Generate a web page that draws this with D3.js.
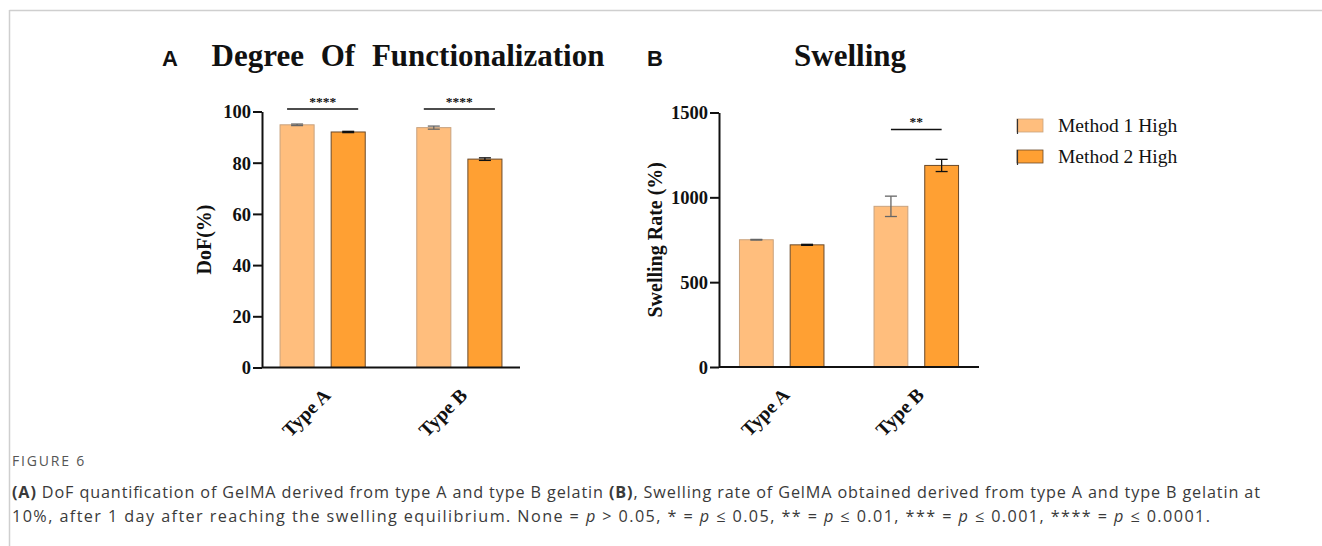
<!DOCTYPE html>
<html><head><meta charset="utf-8">
<script src="https://cdn.jsdelivr.net/npm/d3@7"></script>
<style>
html,body{margin:0;padding:0;background:#fff;}
svg{display:block;}
</style></head>
<body>
<svg id="chart" width="1322" height="546"></svg>
<script>
// ---- data ----
const categories = ["Type A", "Type B"];
const seriesNames = ["Method 1 High", "Method 2 High"];
const dofMethod1 = [94.8, 93.7];
const dofMethod1Err = [0.3, 0.6];
const dofMethod2 = [92.0, 81.4];
const dofMethod2Err = [0.25, 0.5];
const swellMethod1 = [750, 947];
const swellMethod1Err = [2, 60];
const swellMethod2 = [720, 1188];
const swellMethod2Err = [3, 36];
const dofTicks = [0, 20, 40, 60, 80, 100];
const swellTicks = [0, 500, 1000, 1500];
const dofSig = ["****", "****"];
const dofSigLevel = [101, 101];
const swellSig = [null, "**"];
const swellSigLevel = [null, 1400];
const captionTitle = "FIGURE 6";

const svg = d3.select("#chart");
const colors = ["#FFBE7D", "#FFA033"];
const strokes = ["#C9A27E", "#6b4a2a"];
const errColors = ["#666", "#111"];
const serif = "'Liberation Serif','Times New Roman',serif";

// frame
svg.append("line").attr("x1", 9.5).attr("x2", 1322).attr("y1", 10.5).attr("y2", 10.5).attr("stroke", "#cfcfcf").attr("stroke-width", 1.5);
svg.append("line").attr("x1", 9.5).attr("x2", 9.5).attr("y1", 10).attr("y2", 546).attr("stroke", "#cfcfcf").attr("stroke-width", 1.5);

function panel(opt) {
  const g = svg.append("g");
  const y = d3.scaleLinear().domain(opt.domain).range([opt.y0, opt.y1]);
  const x = d3.scaleBand().domain(categories).range([opt.x0, opt.x1]).paddingInner(opt.pIn).paddingOuter(opt.pOut);
  const xs = d3.scaleBand().domain(seriesNames).range([0, x.bandwidth()]).paddingInner(1/3);
  const vals = [opt.m1, opt.m2], errs = [opt.e1, opt.e2];

  // bars
  seriesNames.forEach((s, si) => {
    const bars = g.append("g");
    bars.selectAll("rect").data(categories).join("rect")
      .attr("x", c => x(c) + xs(s))
      .attr("y", (c, i) => y(vals[si][i]))
      .attr("width", xs.bandwidth())
      .attr("height", (c, i) => y(0) - y(vals[si][i]))
      .attr("fill", colors[si]).attr("stroke", strokes[si]).attr("stroke-width", 1);
    // error bars
    categories.forEach((c, i) => {
      const cx = x(c) + xs(s) + xs.bandwidth() / 2;
      const hi = y(vals[si][i] + errs[si][i]), lo = y(vals[si][i] - errs[si][i]);
      const cw = 6;
      const eg = g.append("g").attr("stroke", errColors[si]).attr("stroke-width", 1.3);
      eg.append("line").attr("x1", cx).attr("x2", cx).attr("y1", hi).attr("y2", lo);
      eg.append("line").attr("x1", cx - cw).attr("x2", cx + cw).attr("y1", hi).attr("y2", hi);
      eg.append("line").attr("x1", cx - cw).attr("x2", cx + cw).attr("y1", lo).attr("y2", lo);
    });
  });

  // y axis
  const ya = g.append("g").attr("transform", `translate(${opt.x0},0)`)
    .call(d3.axisLeft(y).tickValues(opt.ticks).tickFormat(d3.format("d")).tickSize(9).tickPadding(2).tickSizeOuter(0));
  ya.select(".domain").attr("stroke", "#111").attr("stroke-width", 2);
  ya.selectAll(".tick line").attr("stroke", "#111").attr("stroke-width", 2);
  ya.selectAll(".tick text").attr("font-family", serif).attr("font-weight", "bold").attr("font-size", 18.5).attr("fill", "#111").attr("dy", "0.35em");

  // x axis
  const xa = g.append("g").attr("transform", `translate(0,${opt.y0})`)
    .call(d3.axisBottom(x).tickSize(0).tickSizeOuter(0).tickPadding(0));
  xa.select(".domain").attr("stroke", "#111").attr("stroke-width", 2.2)
    .attr("d", `M${opt.x0},0H${opt.x1}`);
  xa.selectAll(".tick text")
    .attr("font-family", serif).attr("font-weight", "bold").attr("font-size", 19.5).attr("fill", "#111")
    .attr("text-anchor", "end").attr("dy", 0).attr("y", 0)
    .attr("transform", "translate(9,29) rotate(-45)");

  // y title
  g.append("text").attr("transform", `translate(${opt.yTitleX},${(opt.y0 + opt.y1) / 2}) rotate(-90)`)
    .attr("text-anchor", "middle").attr("font-family", serif).attr("font-weight", "bold").attr("font-size", 20).attr("fill", "#111")
    .text(opt.yTitle);

  // significance
  categories.forEach((c, i) => {
    if (!opt.sig[i]) return;
    const xa1 = x(c) + xs(seriesNames[0]) + xs.bandwidth() / 2 - opt.sigExt;
    const xa2 = x(c) + xs(seriesNames[1]) + xs.bandwidth() / 2 + opt.sigExt;
    const yy = y(opt.sigLevel[i]);
    g.append("line").attr("x1", xa1).attr("x2", xa2).attr("y1", yy).attr("y2", yy).attr("stroke", "#111").attr("stroke-width", 1.6);
    g.append("text").attr("x", (xa1 + xa2) / 2).attr("y", yy - 3).attr("text-anchor", "middle")
      .attr("font-family", serif).attr("font-weight", "bold").attr("font-size", 13.5).attr("fill", "#111").text(opt.sig[i]);
  });

  // titles
  g.append("text").attr("x", opt.letterX).attr("y", 66).attr("font-family", "'Liberation Sans',Arial,sans-serif")
    .attr("font-weight", "bold").attr("font-size", 22).attr("fill", "#111").text(opt.letter);
  g.append("text").attr("x", opt.titleX).attr("y", 66).attr("text-anchor", "middle").attr("font-family", serif)
    .attr("font-weight", "bold").attr("font-size", 31).attr("fill", "#111").attr("word-spacing", 9).text(opt.title);
}

panel({ domain: [0, 100], ticks: dofTicks, y0: 367.5, y1: 111.5, x0: 262, x1: 520, pIn: 0.377, pOut: 0.132,
  m1: dofMethod1, e1: dofMethod1Err, m2: dofMethod2, e2: dofMethod2Err, yTitle: "DoF(%)", yTitleX: 211,
  sig: dofSig, sigLevel: dofSigLevel, sigExt: 10, letter: "A", letterX: 162, title: "Degree Of Functionalization", titleX: 408 });

panel({ domain: [0, 1500], ticks: swellTicks, y0: 367, y1: 112.5, x0: 719, x1: 979, pIn: 0.372, pOut: 0.152,
  m1: swellMethod1, e1: swellMethod1Err, m2: swellMethod2, e2: swellMethod2Err, yTitle: "Swelling Rate (%)", yTitleX: 662,
  sig: swellSig, sigLevel: swellSigLevel, sigExt: 0, letter: "B", letterX: 647, title: "Swelling", titleX: 850 });

// legend
const leg = svg.append("g").attr("transform", "translate(1017,119)");
seriesNames.forEach((s, i) => {
  const lg = leg.append("g").attr("transform", `translate(0,${i * 31})`);
  lg.append("rect").attr("x", 0).attr("y", 0).attr("width", 26).attr("height", 13).attr("fill", colors[i]).attr("stroke", strokes[i]).attr("stroke-width", 0.8);
  lg.append("line").attr("x1", 0.5).attr("x2", 0.5).attr("y1", 0).attr("y2", 15).attr("stroke", "#333").attr("stroke-width", 1.2);
  lg.append("text").attr("x", 41).attr("y", 13).attr("font-family", serif).attr("font-size", 19.5).attr("fill", "#111").text(s);
});

// caption
const cap = svg.append("g").attr("font-family", "'Open Sans','Noto Sans',sans-serif").attr("fill", "#3a3a3a");
cap.append("text").attr("x", 12).attr("y", 466).attr("font-size", 14).attr("letter-spacing", 1.8).attr("fill", "#555").text(captionTitle);
const l1 = cap.append("text").attr("x", 12).attr("y", 498).attr("font-size", 16.2)
  .attr("textLength", 1248).attr("lengthAdjust", "spacing");
l1.append("tspan").attr("font-weight", "bold").text("(A)");
l1.append("tspan").text(" DoF quantification of GelMA derived from type A and type B gelatin ");
l1.append("tspan").attr("font-weight", "bold").text("(B)");
l1.append("tspan").text(", Swelling rate of GelMA obtained derived from type A and type B gelatin at");
const l2 = cap.append("text").attr("x", 12).attr("y", 522).attr("font-size", 16.2)
  .attr("textLength", 1198).attr("lengthAdjust", "spacing");
l2.append("tspan").text("10%, after 1 day after reaching the swelling equilibrium. None = ");
l2.append("tspan").attr("font-style", "italic").text("p");
l2.append("tspan").text(" > 0.05, * = ");
l2.append("tspan").attr("font-style", "italic").text("p");
l2.append("tspan").text(" ≤ 0.05, ** = ");
l2.append("tspan").attr("font-style", "italic").text("p");
l2.append("tspan").text(" ≤ 0.01, *** = ");
l2.append("tspan").attr("font-style", "italic").text("p");
l2.append("tspan").text(" ≤ 0.001, **** = ");
l2.append("tspan").attr("font-style", "italic").text("p");
l2.append("tspan").text(" ≤ 0.0001.");
</script>
</body></html>
